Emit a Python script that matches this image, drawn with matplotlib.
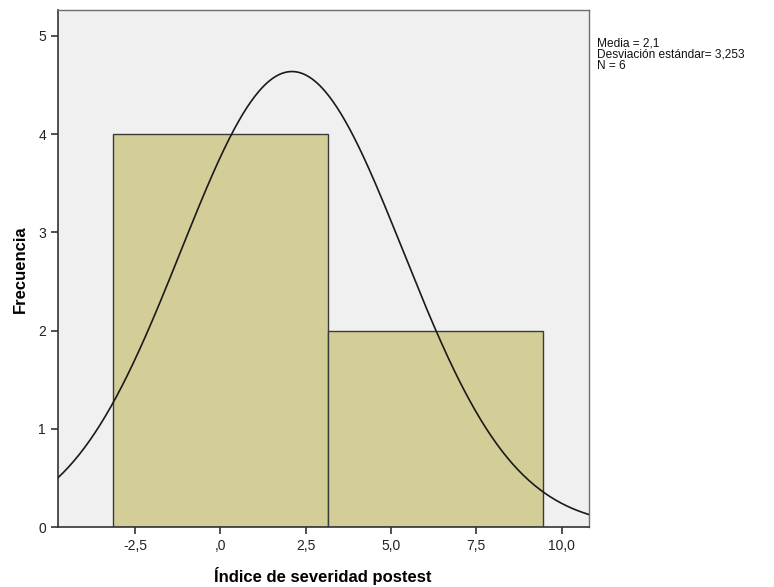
import numpy as np
import matplotlib
matplotlib.use("Agg")
import matplotlib.pyplot as plt

plt.rcParams['font.family'] = ['Liberation Sans', 'DejaVu Sans']

# histogram data
bin_edges = [-3.15, 3.15, 9.45]
counts = [4, 2]

# summary stats
mean = 2.1
std_dev = 3.253
n = 6

x_ticks = [-2.5, 0.0, 2.5, 5.0, 7.5, 10.0]
x_tick_labels = ["-2,5", ",0", "2,5", "5,0", "7,5", "10,0"]
y_ticks = [0, 1, 2, 3, 4, 5]

fig = plt.figure(figsize=(7.74, 5.87), dpi=100)
ax = fig.add_axes([0.0746, 0.1017, 0.686, 0.881])
ax.set_facecolor("#F0F0F0")

widths = np.diff(bin_edges)
ax.bar(bin_edges[:-1], counts, width=widths, align="edge",
       color="#D3CE98", edgecolor="#3A3A3A", linewidth=1.0, zorder=2)

# normal curve scaled to counts
xs = np.linspace(-4.76, 10.79, 400)
bw = widths[0]
ys = n * bw / (std_dev * np.sqrt(2 * np.pi)) * np.exp(-0.5 * ((xs - mean) / std_dev) ** 2)
ax.plot(xs, ys, color="#1A1A1A", linewidth=1.2, zorder=3)

ax.set_xlim(-4.76, 10.79)
ax.set_ylim(0, 5.26)
ax.set_xticks(x_ticks)
ax.set_xticklabels(x_tick_labels)
ax.set_yticks(y_ticks)
ax.tick_params(axis="both", direction="out", length=5, width=1.2,
               color="#333333", labelsize=10, labelcolor="#222222")

for side in ["left", "bottom"]:
    ax.spines[side].set_color("#333333")
    ax.spines[side].set_linewidth(1.2)
for side in ["top", "right"]:
    ax.spines[side].set_color("#6E6E6E")
    ax.spines[side].set_linewidth(1.0)

ax.set_xlabel("Índice de severidad postest", fontsize=12, fontweight="bold", labelpad=10)
ax.set_ylabel("Frecuencia", fontsize=12, fontweight="bold", labelpad=7)

stats_text = "Media = 2,1\nDesviación estándar= 3,253\nN = 6"
fig.text(597 / 774, 1 - 37 / 587, stats_text, fontsize=8.6, va="top", ha="left",
         color="#111111", linespacing=0.97)

fig.savefig("out.png", dpi=100)
